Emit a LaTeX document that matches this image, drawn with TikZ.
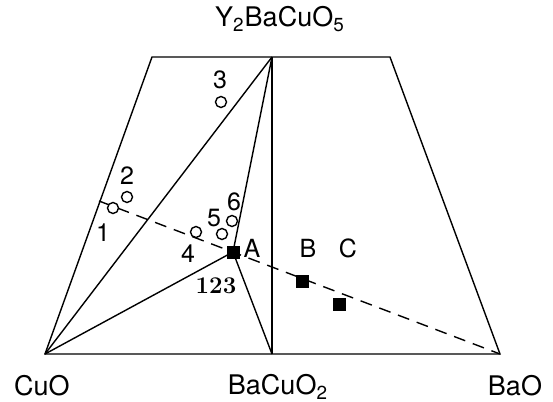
\documentclass[tikz,border=0pt]{standalone}
\usepackage{fontspec}
\setsansfont{TeX Gyre Heros}
\usetikzlibrary{positioning}

\begin{document}
\begin{tikzpicture}[
  x=0.5pt, y=-0.5pt,
  font=\sffamily\fontsize{13.5}{15}\selectfont,
  trait/.style={line width=0.7pt},
  conode/.style={trait, dash pattern=on 6pt off 4pt},
  echant/.style={circle, draw, line width=0.7pt, fill=white, inner sep=0pt, minimum size=5.5pt},
  phase/.style={rectangle, fill=black, inner sep=0pt, minimum size=6.5pt},
  num/.style={inner sep=1pt, font=\sffamily\fontsize{12.5}{14}\selectfont},
]
\useasboundingbox (0,0) rectangle (553,402);
% les sommets du diagramme
\coordinate (cuo) at (45,354);
\coordinate (bac) at (272,354);
\coordinate (bao) at (500,354);
\coordinate (hg) at (152,57);
\coordinate (y211) at (272,57);
\coordinate (hd) at (390,57);
\coordinate (dep) at (99,201);
% le contour et les triangles
\draw[trait] (cuo) -- (bao) -- (hd) -- (hg) -- cycle;
\draw[trait] (bac) -- (y211);
\draw[trait] (cuo) -- (y211);
\draw[trait] (cuo) -- (233,252) -- (y211);
\draw[trait] (233,252) -- (bac);
% la ligne de conode
\draw[conode] (dep) -- (bao);
% les phases A, B, C
\node[phase] (pA) at (233,252) {};
\node[phase] (pB) at (302,281) {};
\node[phase] (pC) at (339,304) {};
% les compositions mesurees
\node[echant] (e1) at (113,208) {};
\node[echant] (e2) at (127,197) {};
\node[echant] (e3) at (221,102) {};
\node[echant] (e4) at (196,232) {};
\node[echant] (e5) at (222,234) {};
\node[echant] (e6) at (232,221) {};
\node[num] at (103,233) {1};
\node[num] at (127,176) {2};
\node[num] at (220,80) {3};
\node[num] at (188,254) {4};
\node[num] at (214,218) {5};
\node[num] at (234,202) {6};
\node[num] at (252,248) {A};
\node[num] at (308,248) {B};
\node[num] at (348,248) {C};
\node[num, font=\rmfamily\bfseries\fontsize{12}{14}\selectfont] at (216,286) {123};
% les noms des constituants
\node at (280,19) {Y\textsubscript{2}BaCuO\textsubscript{5}};
\node at (42,386) {CuO};
\node at (278,387) {BaCuO\textsubscript{2}};
\node at (515,386) {BaO};
\end{tikzpicture}
\end{document}
